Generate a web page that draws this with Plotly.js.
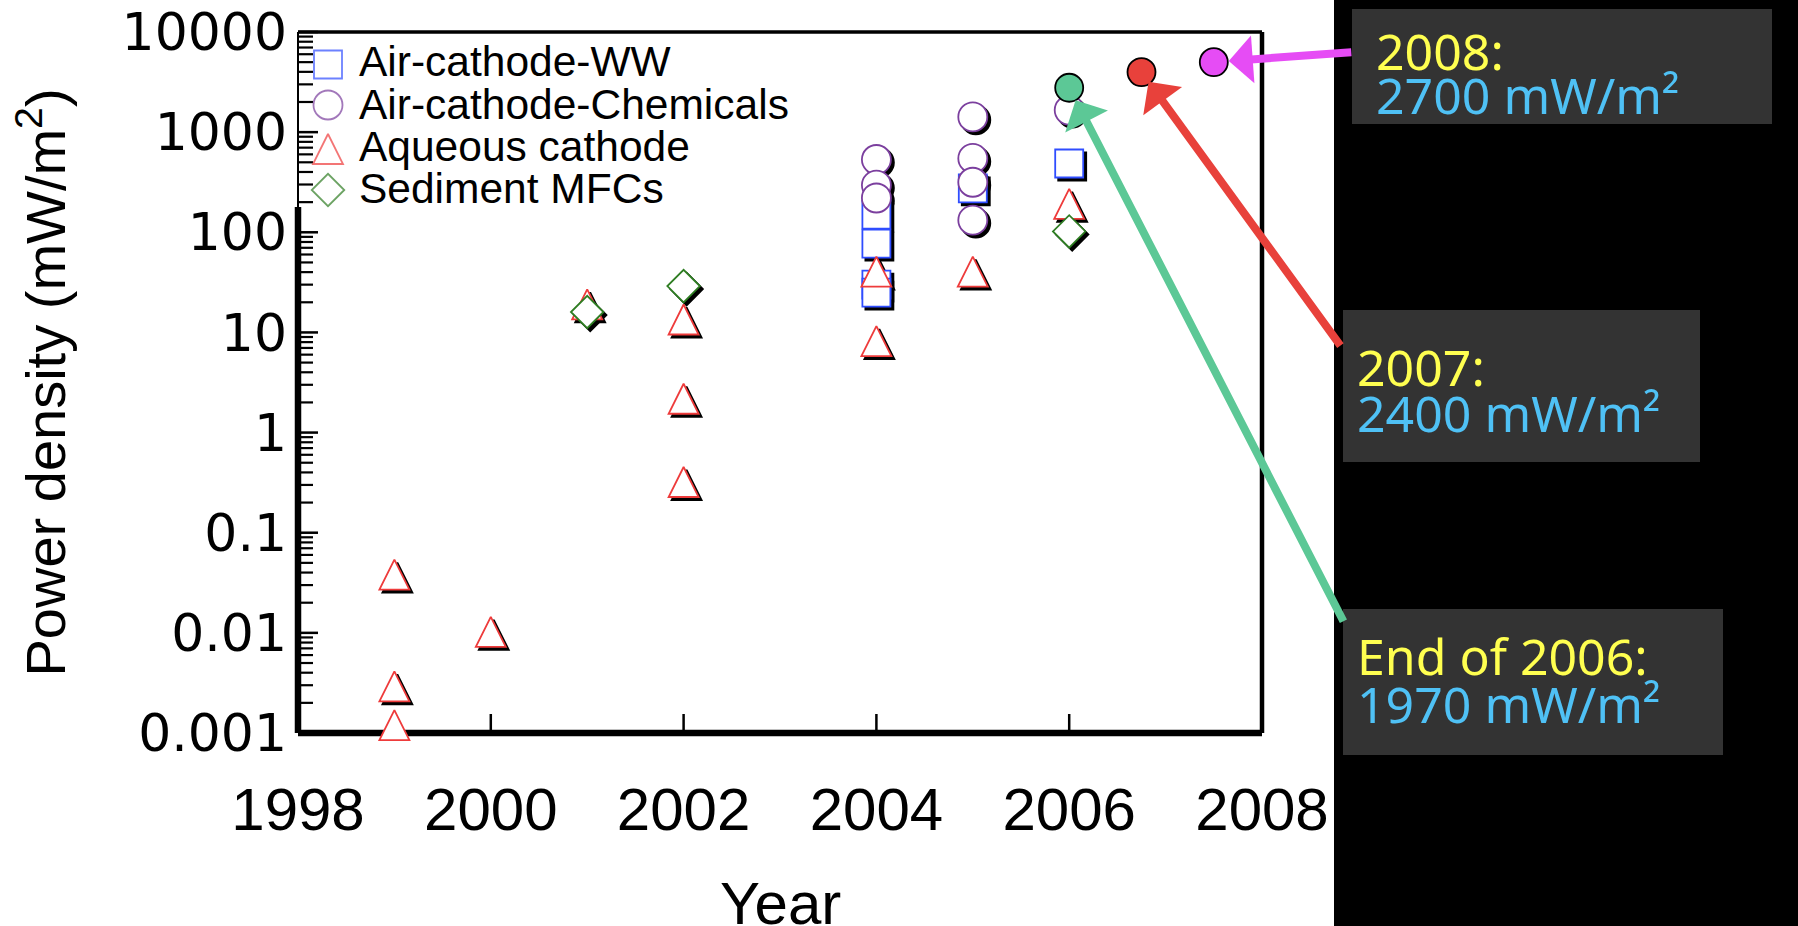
<!DOCTYPE html>
<html><head><meta charset="utf-8">
<script src="https://cdn.plot.ly/plotly-3.0.1.min.js"></script>
<style>html,body{margin:0;padding:0;background:#fff;overflow:hidden}#chart{width:1798px;height:926px}</style>
</head><body><div id="chart"></div>
<script>
// ---------- data ----------
const seriesNames = ['Air-cathode-WW', 'Air-cathode-Chemicals', 'Aqueous cathode', 'Sediment MFCs'];
const wwYears   = [2004, 2004, 2004, 2004, 2005, 2006];
const wwPower   = [150, 77, 30, 25, 274, 486];
const chemYears = [2004, 2004, 2004, 2005, 2005, 2005, 2005, 2006];
const chemPower = [533, 296, 220, 1420, 546, 316, 132, 1660];
const aqYears   = [1999, 1999, 1999, 2000, 2001, 2002, 2002, 2002, 2004, 2004, 2005, 2006];
const aqPower   = [0.034, 0.0026, 0.00107, 0.0091, 17, 12, 1.94, 0.286, 36, 7.3, 36, 171];
const sedYears  = [2001, 2002, 2006];
const sedPower  = [16, 29, 102];
const recordYears  = [2006.0, 2006.75, 2007.5];
const recordPower  = [2775, 3975, 5000];
const recordTitles = ['End of 2006:', '2007:', '2008:'];
const recordValues = ['1970 mW/m²', '2400 mW/m²', '2700 mW/m²'];
const xTickVals = [1998, 2000, 2002, 2004, 2006, 2008];
const yTickVals = [0.001, 0.01, 0.1, 1, 10, 100, 1000, 10000];
const yTickText = ['0.001', '0.01', '0.1', '1', '10', '100', '1000', '10000'];
const minorDigits = [2, 3, 4, 5, 6, 7, 8, 9];

// ---------- styles ----------
const W = 1798, H = 926, L = 298, R = 536, T = 32, B = 193;
const PW = W - L - R, PH = H - T - B;
const X_RANGE = [1998, 2008], Y_RANGE = [-3, 4];
const px = X => (X - L) / PW;
const py = Y => (H - B - Y) / PH;
const xFrac = v => (v - X_RANGE[0]) / (X_RANGE[1] - X_RANGE[0]);
const yFrac = v => (Math.log10(v) - Y_RANGE[0]) / (Y_RANGE[1] - Y_RANGE[0]);
const SH = 3; // shadow offset px
const shiftX = SH / PW * 10, shiftY = SH / PH * 7;

const yMinorVals = [];
yTickVals.slice(0, -1).forEach(v => minorDigits.forEach(m => yMinorVals.push(v * m)));

const seriesData = [[wwYears, wwPower], [chemYears, chemPower], [aqYears, aqPower], [sedYears, sedPower]];
const seriesStyle = [
  {symbol: 'square', size: 28, color: '#2F4DFF', angle: 0, standoff: 0},
  {symbol: 'circle', size: 29, color: '#7B3F9E', angle: 0, standoff: 0},
  {symbol: 'arrow-down', size: 30, color: '#EE3B3B', angle: 180, standoff: 20},
  {symbol: 'diamond', size: 25, color: '#2E7D22', angle: 0, standoff: 0}
];
const recordColors = ['#5CC896', '#E8413B', '#E64CF5'];
const arrowTails = [[275, 535], [200, 275], [139, -10]];
const arrowStandoff = [14, 12, 15];

const narrow = 'Liberation Sans Narrow, Arial Narrow, Liberation Sans, Arial, sans-serif';
const traces = [];
// shadows (base axes, shifted by a few pixels)
seriesData.forEach((d, i) => {
  const s = seriesStyle[i];
  traces.push({x: d[0], y: d[1], xaxis: 'x', yaxis: 'y', type: 'scatter', mode: 'markers', cliponaxis: false,
    hoverinfo: 'skip', showlegend: false,
    marker: {symbol: s.symbol, size: s.size, color: '#000', angle: s.angle, standoff: s.standoff, line: {color: '#000', width: 1.8}}});
});
// main markers
seriesData.forEach((d, i) => {
  const s = seriesStyle[i];
  traces.push({x: d[0], y: d[1], name: seriesNames[i], xaxis: 'x2', yaxis: 'y2', type: 'scatter', mode: 'markers', cliponaxis: false,
    marker: {symbol: s.symbol, size: s.size, color: '#fff', angle: s.angle, standoff: s.standoff, line: {color: s.color, width: 1.8}}});
});
// record points
traces.push({x: recordYears, y: recordPower, xaxis: 'x2', yaxis: 'y2', type: 'scatter', mode: 'markers', cliponaxis: false,
  name: 'records', marker: {size: 28, color: recordColors, line: {color: '#000', width: 1.8}}});

// custom legend symbols
const legX = px(328), legRows = [64.5, 105, 154, 190];
traces.push({x: legRows.map(() => legX), y: legRows.map(py), xaxis: 'x3', yaxis: 'y3', type: 'scatter', mode: 'markers',
  cliponaxis: false, hoverinfo: 'skip', showlegend: false,
  marker: {symbol: seriesStyle.map(s => s.symbol), size: seriesStyle.map(s => s.size), color: '#fff',
    angle: seriesStyle.map(s => s.angle), standoff: seriesStyle.map(s => s.standoff),
    line: {color: seriesStyle.map(s => s.color), width: 1.8}}});

const annotations = [];
const legTextRows = [62, 105, 147, 188];
seriesNames.forEach((n, i) => annotations.push({xref: 'paper', yref: 'paper', x: px(357), y: py(legTextRows[i]),
  xanchor: 'left', yanchor: 'middle', showarrow: false, text: n,
  font: {family: 'Liberation Sans, Arial, sans-serif', size: 42.5, color: '#000'}}));

// record boxes
const boxes = [[1343, 609, 1723, 755], [1343, 310, 1700, 462], [1352, 9, 1772, 124]];
const boxLines = [[656, 704], [367, 413], [51, 95]];
const boxPad = [12, 12, 22];
const shapes = [
  {type: 'rect', xref: 'paper', yref: 'paper', x0: px(1334), x1: px(1810), y0: py(940), y1: py(-10), fillcolor: '#000', line: {width: 0}, layer: 'above'},
  // frame
  {type: 'line', xref: 'paper', yref: 'paper', x0: 0, x1: 1, y0: 0, y1: 0, line: {color: '#000', width: 6.5}, layer: 'below'},
  {type: 'line', xref: 'paper', yref: 'paper', x0: 1, x1: 1, y0: 0, y1: 1, line: {color: '#000', width: 4.5}, layer: 'below'},
  {type: 'line', xref: 'paper', yref: 'paper', x0: 0, x1: 1, y0: 1, y1: 1, line: {color: '#000', width: 3.5}, layer: 'below'},
  {type: 'line', xref: 'paper', yref: 'paper', x0: 0, x1: 0, y0: 0, y1: py(207), line: {color: '#000', width: 6.5}, layer: 'below'},
  {type: 'line', xref: 'paper', yref: 'paper', x0: 0, x1: 0, y0: py(207), y1: 1, line: {color: '#000', width: 2}, layer: 'below'}
];
// inside tick marks
xTickVals.slice(1, -1).forEach(v => shapes.push({type: 'line', xref: 'paper', yref: 'paper', x0: xFrac(v), x1: xFrac(v),
  y0: 0, y1: 19 / PH, line: {color: '#000', width: 2.5}, layer: 'below'}));
yTickVals.forEach(v => shapes.push({type: 'line', xref: 'paper', yref: 'paper', x0: 0, x1: 20 / PW, y0: yFrac(v), y1: yFrac(v),
  line: {color: '#000', width: 2.5}, layer: 'below'}));
yMinorVals.forEach(v => shapes.push({type: 'line', xref: 'paper', yref: 'paper', x0: 0, x1: 15 / PW, y0: yFrac(v), y1: yFrac(v),
  line: {color: '#000', width: 2.2}, layer: 'below'}));

boxes.forEach((b, i) => {
  shapes.push({type: 'rect', xref: 'paper', yref: 'paper', x0: px(b[0]), x1: px(b[2]), y0: py(b[3]), y1: py(b[1]),
    fillcolor: '#333333', line: {width: 0}, layer: 'above'});
  annotations.push({xref: 'paper', yref: 'paper', x: px(b[0] + boxPad[i]), y: py(boxLines[i][0]), xanchor: 'left', yanchor: 'middle',
    showarrow: false, text: recordTitles[i], font: {family: 'Noto Sans, DejaVu Sans, sans-serif', size: 50, color: '#FFFF50'}});
  annotations.push({xref: 'paper', yref: 'paper', x: px(b[0] + boxPad[i]), y: py(boxLines[i][1]), xanchor: 'left', yanchor: 'middle',
    showarrow: false, text: recordValues[i], font: {family: 'Noto Sans, DejaVu Sans, sans-serif', size: 50, color: '#4FC1F5'}});
});
// x-axis title (placed at the very bottom edge like the reference)
annotations.push({xref: 'paper', yref: 'paper', x: 0.5, y: py(903), xanchor: 'center', yanchor: 'middle', showarrow: false,
  text: 'Year', font: {family: narrow, size: 60, color: '#000'}});
// arrows
recordYears.forEach((yr, i) => annotations.push({xref: 'x2', yref: 'y2', x: yr, y: Math.log10(recordPower[i]),
  text: '', showarrow: true, ax: arrowTails[i][0], ay: arrowTails[i][1], arrowhead: 1, arrowsize: 1.0, arrowwidth: 8,
  arrowcolor: recordColors[i], standoff: arrowStandoff[i]}));

const layout = {
  width: W, height: H, margin: {l: L, r: R, t: T, b: B, pad: 0},
  paper_bgcolor: '#fff', plot_bgcolor: 'rgba(0,0,0,0)', showlegend: false,
  xaxis: {range: [X_RANGE[0] - shiftX, X_RANGE[1] - shiftX], visible: false},
  yaxis: {type: 'log', range: [Y_RANGE[0] + shiftY, Y_RANGE[1] + shiftY], visible: false},
  xaxis3: {overlaying: 'x', anchor: 'y3', range: [0, 1], visible: false},
  yaxis3: {overlaying: 'y', anchor: 'x3', range: [0, 1], visible: false},
  xaxis2: {overlaying: 'x', anchor: 'y2', range: X_RANGE, tickmode: 'array', tickvals: xTickVals,
    ticks: '', showgrid: false, zeroline: false, showline: false,
    tickfont: {family: narrow, size: 60, color: '#000'}, ticklabelstandoff: 36},
  yaxis2: {overlaying: 'y', anchor: 'x2', type: 'log', range: Y_RANGE, tickmode: 'array', tickvals: yTickVals, ticktext: yTickText,
    ticks: '', showgrid: false, zeroline: false, showline: false,
    tickfont: {family: 'DejaVu Sans, Verdana, sans-serif', size: 52, color: '#000'}, ticklabelstandoff: 10,
    title: {text: 'Power density (mW/m<sup>2</sup>)', font: {family: narrow, size: 56, color: '#000'}, standoff: 37}},
  shapes: shapes, annotations: annotations
};
Plotly.newPlot('chart', traces, layout, {displayModeBar: false, staticPlot: true});
</script></body></html>
